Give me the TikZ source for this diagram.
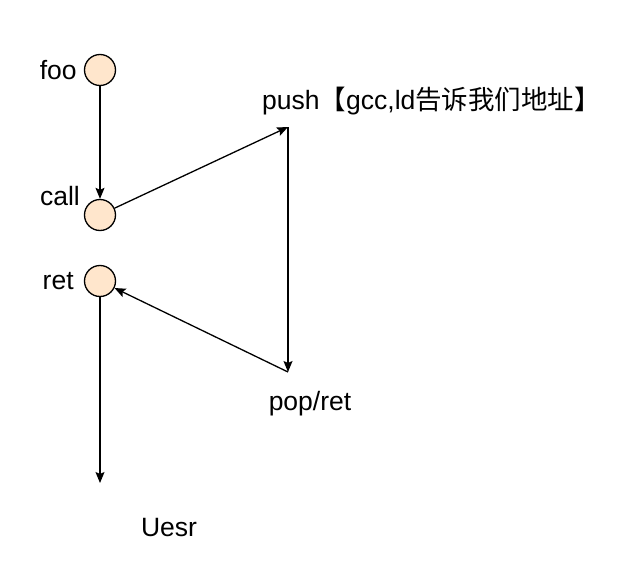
\documentclass[tikz,border=0pt]{standalone}
\usepackage{fontspec}
\setmainfont{Liberation Sans}
\newfontfamily\cjk{Noto Sans CJK SC}
\usetikzlibrary{arrows.meta,positioning}
\definecolor{stackfill}{HTML}{FFE6CC}
\definecolor{ink}{HTML}{000000}

\begin{document}
\begin{tikzpicture}[
  x=1pt, y=-1pt,
  frame/.style={circle, draw=ink, line width=1.3pt, fill=stackfill, minimum size=31pt, inner sep=0pt},
  lbl/.style={inner sep=0pt, font=\fontsize{26.5}{31}\selectfont, text=ink},
  arrow/.style={-{Stealth[length=11pt,width=9pt,inset=2pt]}, line width=1.3pt, draw=ink}
]
\useasboundingbox (0,0) rectangle (622,570);

\node[frame] (foo) at (100,70) {};
\node[frame] (call) at (100,215) {};
\node[frame] (ret) at (100,281) {};

\node[lbl, left=7pt of foo] (foolbl) {foo};
\node[lbl] (calllbl) at (60,196) {call};
\node[lbl, left=10pt of ret] (retlbl) {ret};
\node[lbl, anchor=west] (pushlbl) at (262,101) {push{\cjk 【}gcc,ld{\cjk 告诉我们地址】}};
\node[lbl] (poplbl) at (310,404) {pop/ret};
\node[lbl] (userlbl) at (169,528) {Uesr};

\coordinate (pushpt) at (288,127);
\coordinate (poppt) at (288,372);
\coordinate (userpt) at (100,483);

\draw[arrow] (foo) -- (call);
\draw[arrow] (call) -- (pushpt);
\draw[arrow] (pushpt) -- (poppt);
\draw[arrow] (poppt) -- (ret);
\draw[arrow] (ret) -- (userpt);
\end{tikzpicture}
\end{document}
